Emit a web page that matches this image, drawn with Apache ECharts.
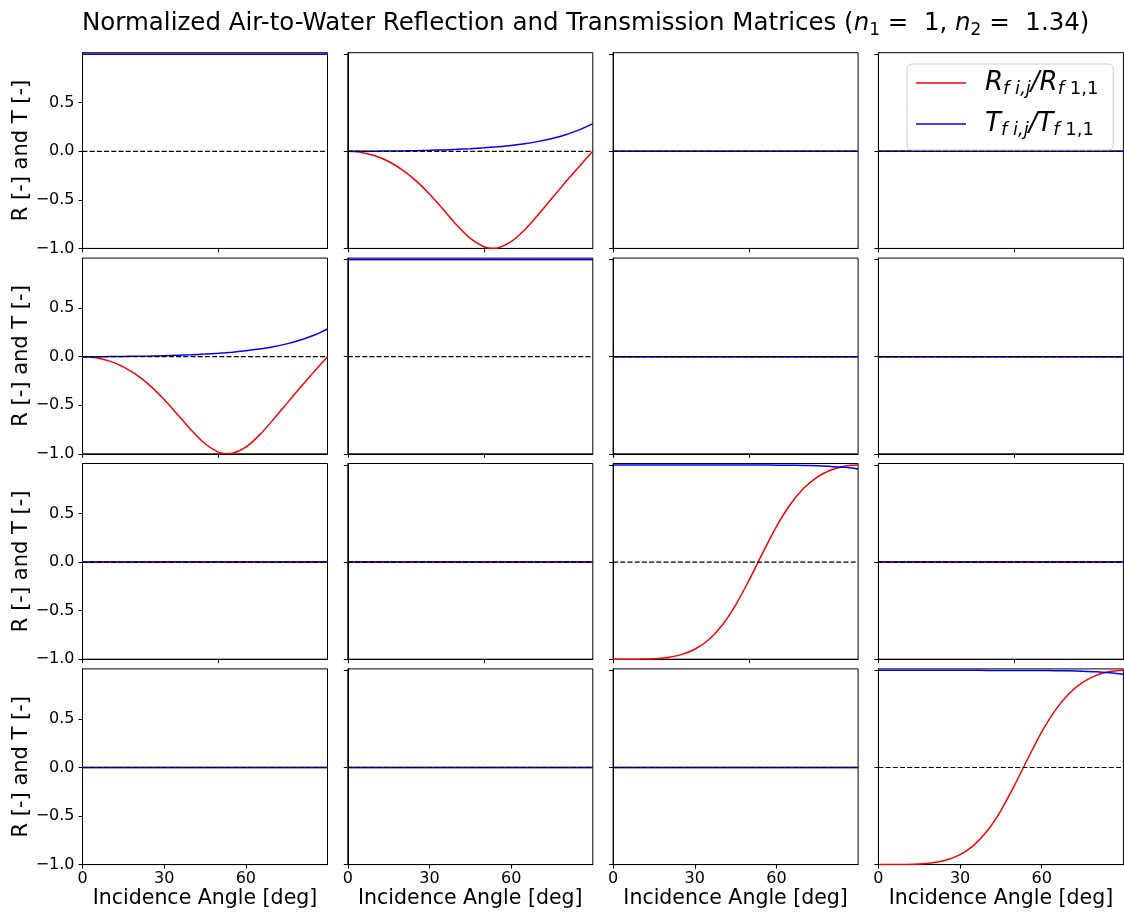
<!DOCTYPE html>
<html>
<head>
<meta charset="utf-8">
<script src="https://cdn.jsdelivr.net/npm/echarts@6/dist/echarts.min.js"></script>
<style>
html,body{margin:0;padding:0;background:#fff;}
#chart{width:1124px;height:915px;}
</style>
</head>
<body>
<div id="chart"></div>
<script>
// Incidence angles [deg]
const angles = [0, 5, 10, 15, 20, 25, 30, 35, 40, 45, 50, 52.5, 55, 60, 65, 70, 75, 80, 85, 87.5, 90];
// Normalized reflection ratios
const reflR12 = [0, -0.0114, -0.0461, -0.1052, -0.1904, -0.3027, -0.4406, -0.5976, -0.7580, -0.8965, -0.9830, -0.9991, -0.9952, -0.9308, -0.8074, -0.6509, -0.4832, -0.3170, -0.1565, -0.0779, 0];
const reflR33 = [-1, -0.9999, -0.9989, -0.9944, -0.9817, -0.9531, -0.8977, -0.8018, -0.6523, -0.4431, -0.1838, -0.0435, 0.0979, 0.3655, 0.5900, 0.7592, 0.8755, 0.9484, 0.9877, 0.9970, 1];
// Normalized transmission ratios
const tranT12 = [0, 0.0002, 0.0010, 0.0023, 0.0041, 0.0067, 0.0100, 0.0143, 0.0197, 0.0266, 0.0353, 0.0405, 0.0463, 0.0605, 0.0786, 0.1019, 0.1320, 0.1709, 0.2208, 0.2508, 0.2846];
const tranT33 = [1, 1, 1, 1, 1, 1, 0.9999, 0.9999, 0.9998, 0.9996, 0.9994, 0.9992, 0.9989, 0.9982, 0.9969, 0.9948, 0.9912, 0.9853, 0.9753, 0.9680, 0.9587];
const unityRatio = [1, 1, 1, 1, 1, 1, 1, 1, 1, 1, 1, 1, 1, 1, 1, 1, 1, 1, 1, 1, 1];
const nullRatio = [0, 0, 0, 0, 0, 0, 0, 0, 0, 0, 0, 0, 0, 0, 0, 0, 0, 0, 0, 0, 0];

// Tick values
const xTicksBottom = [0, 30, 60];
const xTicksUpper = [0, 50];
const yTicksFirstCol = [-1, -0.5, 0, 0.5];
const yTicksOtherCols = [-1, 0, 1];

const titleText = 'Normalized Air-to-Water Reflection and Transmission Matrices (';
const xName = 'Incidence Angle [deg]';
const yName = 'R [-] and T [-]';

// Matrix layout: [R series, T series] per cell
const cells = [
  [[unityRatio, unityRatio], [reflR12, tranT12], [nullRatio, nullRatio], [nullRatio, nullRatio]],
  [[reflR12, tranT12], [unityRatio, unityRatio], [nullRatio, nullRatio], [nullRatio, nullRatio]],
  [[nullRatio, nullRatio], [nullRatio, nullRatio], [reflR33, tranT33], [nullRatio, nullRatio]],
  [[nullRatio, nullRatio], [nullRatio, nullRatio], [nullRatio, nullRatio], [reflR33, tranT33]]
];

const FONT = 'DejaVu Sans';
const pair = arr => angles.map((a, i) => [a, arr[i]]);
const fmtY = v => (v < 0 ? '\u2212' : '') + Math.abs(v).toFixed(1);

const grids = [], xAxes = [], yAxes = [], series = [];
let k = 0;
for (let r = 0; r < 4; r++) {
  for (let c = 0; c < 4; c++) {
    const bottom = r === 3, first = c === 0;
    grids.push({
      left: 82.5 + c * 265.3, top: 52.7 + r * 205.4, width: 245, height: 195.7,
      show: true, borderColor: '#000', borderWidth: 1, backgroundColor: 'transparent'
    });
    xAxes.push({
      gridIndex: k, type: 'value', min: 0, max: 90,
      axisLine: { show: true, onZero: false, lineStyle: { color: '#000', width: 1 } },
      axisTick: { show: true, length: 4, lineStyle: { color: '#000', width: 1 }, customValues: bottom ? xTicksBottom : xTicksUpper },
      axisLabel: { show: bottom, customValues: xTicksBottom, color: '#000', fontSize: 16, fontFamily: FONT, margin: 6 },
      splitLine: { show: false },
      name: bottom ? xName : '', nameLocation: 'middle', nameGap: 24,
      nameTextStyle: { fontSize: 20.5, color: '#000', fontFamily: FONT }
    });
    yAxes.push({
      gridIndex: k, type: 'value', min: -1, max: 1.015,
      axisLine: { show: true, onZero: false, lineStyle: { color: '#000', width: 1 } },
      axisTick: { show: true, length: 4, lineStyle: { color: '#000', width: 1 }, customValues: first ? yTicksFirstCol : yTicksOtherCols },
      axisLabel: { show: first, customValues: yTicksFirstCol, formatter: fmtY, color: '#000', fontSize: 16, fontFamily: FONT, margin: 8 },
      splitLine: { show: false },
      name: first ? yName : '', nameLocation: 'middle', nameRotate: 90, nameGap: 43,
      nameTextStyle: { fontSize: 21, color: '#000', fontFamily: FONT }
    });
    const [rArr, tArr] = cells[r][c];
    series.push({
      type: 'line', name: 'R', xAxisIndex: k, yAxisIndex: k, data: pair(rArr),
      symbol: 'none', showSymbol: false, smooth: 0.25, z: 2,
      lineStyle: { color: '#ff0000', width: 1.5 }, itemStyle: { color: '#ff0000' }
    });
    series.push({
      type: 'line', name: 'T', xAxisIndex: k, yAxisIndex: k, data: pair(tArr),
      symbol: 'none', showSymbol: false, smooth: 0.25, z: 3,
      lineStyle: { color: '#0000ff', width: 1.5 }, itemStyle: { color: '#0000ff' }
    });
    series.push({
      type: 'line', name: 'zero', xAxisIndex: k, yAxisIndex: k, data: pair(nullRatio),
      symbol: 'none', showSymbol: false, z: 4, silent: true,
      lineStyle: { color: '#000', width: 1.2, type: [5, 2.2] }
    });
    k++;
  }
}

const option = {
  animation: false,
  backgroundColor: '#fff',
  title: {
    left: 77, top: 3,
    text: titleText + '{it|n}{sb|1}{t| =  1, }{it|n}{sb|2}{t| =  1.34)}',
    textStyle: {
      fontSize: 24.5, fontWeight: 'normal', color: '#000', fontFamily: FONT,
      rich: {
        it: { fontSize: 24.5, fontStyle: 'italic', fontFamily: FONT, color: '#000', lineHeight: 31 },
        sb: { fontSize: 17, fontFamily: FONT, color: '#000', verticalAlign: 'bottom', lineHeight: 17 },
        t: { fontSize: 24.5, fontFamily: FONT, color: '#000', lineHeight: 31 }
      }
    }
  },
  legend: {
    data: [{ name: 'R', icon: 'rect' }, { name: 'T', icon: 'rect' }],
    orient: 'vertical', left: 907, top: 64,
    itemWidth: 50, itemHeight: 1.5, itemGap: 13,
    padding: [6, 15, 11, 9],
    backgroundColor: 'rgba(255,255,255,0.8)', borderColor: '#cccccc', borderWidth: 1, borderRadius: 5,
    selectedMode: false,
    formatter: name => name === 'R'
      ? '{m|R}{s|f i,j}{m|/R}{s|f }{u|1,1}'
      : '{m|T}{s|f i,j}{m|/T}{s|f }{u|1,1}',
    textStyle: {
      padding: [0, 0, 0, 14],
      rich: {
        m: { fontSize: 26, fontStyle: 'italic', fontFamily: FONT, color: '#000', lineHeight: 30 },
        s: { fontSize: 18, fontStyle: 'italic', fontFamily: FONT, color: '#000', verticalAlign: 'bottom', lineHeight: 17 },
        u: { fontSize: 18, fontFamily: FONT, color: '#000', verticalAlign: 'bottom', lineHeight: 17 }
      }
    }
  },
  grid: grids, xAxis: xAxes, yAxis: yAxes, series: series
};

const chart = echarts.init(document.getElementById('chart'), null, { renderer: 'canvas' });
chart.setOption(option);
</script>
</body>
</html>
